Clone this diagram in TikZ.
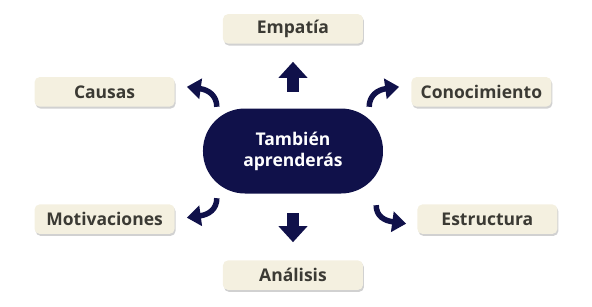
\documentclass[tikz,border=0pt]{standalone}
\usepackage{fontspec}
\setmainfont{Open Sans}
\definecolor{navy}{HTML}{10114A}
\definecolor{cream}{HTML}{F4F0E0}
\definecolor{ink}{HTML}{3B3A34}
\usetikzlibrary{arrows.meta, positioning, shadows}

\begin{document}
\begin{tikzpicture}[
    node distance=28pt,
    hub/.style={rectangle, fill=navy, rounded corners=42pt, minimum width=180pt, minimum height=85pt, align=center, text=white, font=\fontsize{17.5}{21}\selectfont\bfseries},
    topic/.style={rectangle, fill=cream, rounded corners=5pt, minimum width=140pt, minimum height=29.5pt, inner sep=0pt, text=ink, font=\fontsize{17.5}{20}\selectfont\bfseries, drop shadow={shadow xshift=1pt, shadow yshift=-2pt, fill=black, opacity=0.18}},
    bigarrow/.style={-{Triangle[width=28pt, length=16pt]}, line width=12pt, color=navy},
    curvearrow/.style={-{Triangle[width=20pt, length=14pt]}, line width=5.5pt, color=navy}
]
\useasboundingbox (-293pt,-155pt) rectangle (299pt,151pt);
\node[hub] (center) at (0,0) {También\\aprenderás};
\node[topic, above=64.5pt of center] (empatia) {Empatía};
\node[topic, below=66.5pt of center] (analisis) {Análisis};
\node[topic, above left=1.5pt and 28pt of center] (causas) {Causas};
\node[topic, above right=1.5pt and 28pt of center] (conocimiento) {Conocimiento};
\node[topic, below left=10.5pt and 28pt of center] (motivaciones) {Motivaciones};
\node[topic, below right=10.5pt and 34pt of center] (estructura) {Estructura};

\draw[bigarrow, shorten <=16.5pt, shorten >=18pt] (center.north) -- (empatia.south);
\draw[bigarrow, shorten <=19.5pt, shorten >=18pt] (center.south) -- (analisis.north);
\draw[curvearrow] ([shift={(14pt,1.5pt)}]center.north west) .. controls +(0pt,11pt) and +(22pt,-3pt) .. ([shift={(12pt,5pt)}]causas.east);
\draw[curvearrow] ([shift={(-14pt,1.5pt)}]center.north east) .. controls +(0pt,11pt) and +(-22pt,-3pt) .. ([shift={(-12pt,5pt)}]conocimiento.west);
\draw[curvearrow] ([shift={(14pt,-4.5pt)}]center.south west) .. controls +(0pt,-11pt) and +(22pt,3pt) .. ([shift={(12pt,1.5pt)}]motivaciones.east);
\draw[curvearrow] ([shift={(-7pt,-11.5pt)}]center.south east) .. controls +(0pt,-11pt) and +(-22pt,3pt) .. ([shift={(-11pt,-4.5pt)}]estructura.west);
\end{tikzpicture}
\end{document}
